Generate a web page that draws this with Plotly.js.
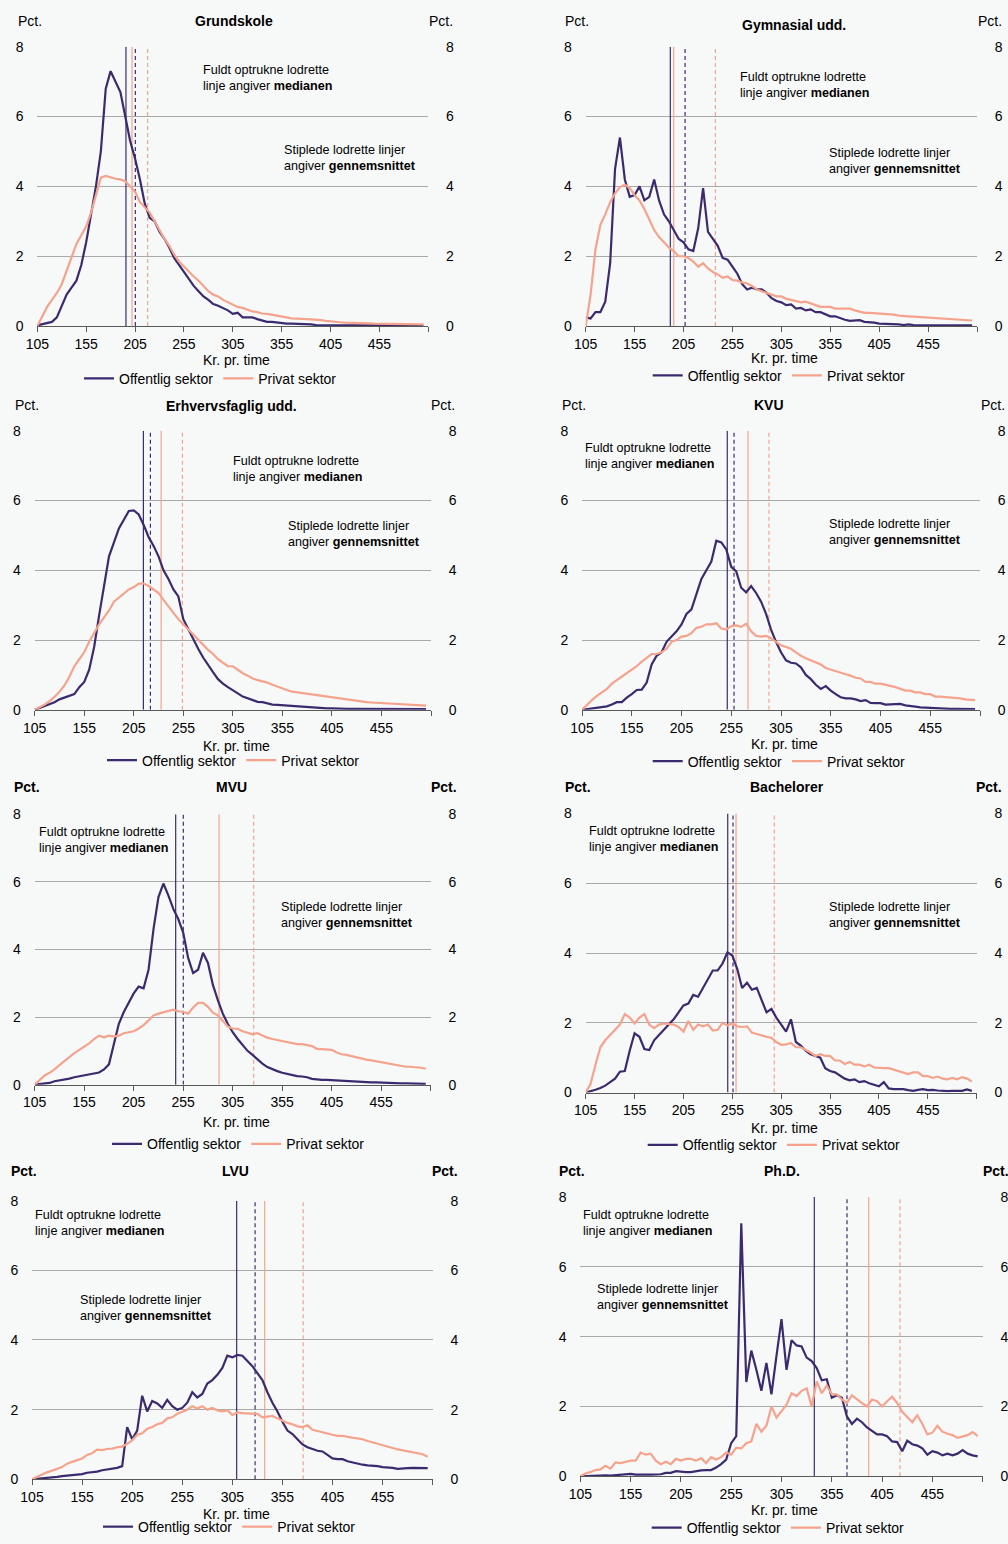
<!DOCTYPE html>
<html><head><meta charset="utf-8">
<script src="https://cdn.plot.ly/plotly-3.0.1.min.js"></script>
<style>html,body{margin:0;padding:0;background:#f7f8f8}#chart{width:1008px;height:1544px}</style>
</head><body><div id="chart"></div>
<script>
// Kr. pr. time (categories)
const kr = [105,110,115,120,125,130,135,140,145,150,155,160,165,170,175,180,185,190,195,200,
  205,210,215,220,225,230,235,240,245,250,255,260,265,270,275,280,285,290,295,300,
  305,310,315,320,325,330,335,340,345,350,355,360,365,370,375,380,385,390,395,400,
  405,410,415,420,425,430,435,440,445,450,455,460,465,470,475,480,485,490,495,500];
const xTickVals = [105,155,205,255,305,355,405,455,505];
const xTickText = ['105','155','205','255','305','355','405','455',''];
const yTickVals = [0,2,4,6,8];

const panelTitles = ['Grundskole','Gymnasial udd.','Erhvervsfaglig udd.','KVU','MVU','Bachelorer','LVU','Ph.D.'];
const seriesNames = ['Offentlig sektor','Privat sektor'];

// Pct. per wage bracket
const grundskoleOff = [0.02,0.05,0.08,0.12,0.25,0.55,0.9,1.1,1.3,1.75, 2.4,3.2,4.0,5.0,6.8,7.3,7.0,6.7,6.0,5.3,
  4.8,4.2,3.5,3.1,3.0,2.7,2.5,2.25,1.95,1.75, 1.55,1.35,1.15,1.0,0.85,0.75,0.63,0.58,0.52,0.45,
  0.35,0.38,0.25,0.24,0.25,0.2,0.15,0.12,0.12,0.1, 0.08,0.07,0.07,0.07,0.07,0.06,0.05,0.03,0.03,0.03,
  0.03,0.03,0.03,0.03,0.02,0.02,0.02,0.02,0.02,0.02, 0.02,0.02,0.02,0.02,0.03,0.03,0.02,0.02,0.02,0.02];
const grundskolePriv = [0,0.3,0.55,0.75,0.95,1.2,1.6,2.0,2.35,2.6, 2.85,3.25,3.75,4.25,4.3,4.25,4.22,4.2,4.15,4.0,
  3.85,3.55,3.4,3.25,3.0,2.75,2.5,2.3,2.05,1.85, 1.7,1.55,1.42,1.3,1.15,1.0,0.9,0.85,0.75,0.68,
  0.62,0.55,0.52,0.47,0.42,0.4,0.36,0.35,0.33,0.3, 0.28,0.25,0.22,0.22,0.21,0.2,0.19,0.19,0.17,0.15,
  0.13,0.12,0.11,0.1,0.1,0.09,0.09,0.08,0.08,0.07, 0.07,0.06,0.06,0.06,0.06,0.06,0.06,0.05,0.05,0.05];

const gymnasialOff = [0.25,0.22,0.4,0.4,0.7,1.8,4.5,5.4,4.2,3.7, 3.75,4.0,3.6,3.7,4.2,3.6,3.2,3.0,2.75,2.5,
  2.4,2.2,2.15,2.8,3.95,2.7,2.5,2.3,1.95,1.9, 1.7,1.5,1.2,1.05,1.1,1.05,1.05,0.95,0.8,0.72,
  0.68,0.6,0.62,0.5,0.52,0.45,0.48,0.4,0.4,0.35, 0.28,0.28,0.22,0.18,0.15,0.15,0.17,0.12,0.12,0.1,
  0.07,0.07,0.06,0.06,0.05,0.03,0.05,0.03,0.03,0.02, 0.03,0.03,0.02,0.03,0.02,0.02,0.02,0.02,0.02,0.02];
const gymnasialPriv = [0,0.9,2.2,2.9,3.2,3.55,3.8,3.98,4.05,3.95, 3.75,3.6,3.35,3.05,2.75,2.55,2.4,2.25,2.15,2.0,
  2.0,1.95,1.85,1.7,1.8,1.65,1.55,1.48,1.38,1.42, 1.32,1.3,1.25,1.22,1.15,1.05,1.0,0.95,0.9,0.85,
  0.85,0.78,0.75,0.72,0.68,0.7,0.65,0.58,0.55,0.55, 0.55,0.5,0.5,0.5,0.5,0.45,0.42,0.38,0.38,0.37,
  0.35,0.36,0.35,0.33,0.3,0.28,0.28,0.27,0.26,0.25, 0.24,0.23,0.22,0.21,0.2,0.19,0.17,0.17,0.16,0.16];

const erhvervOff = [0,0.05,0.1,0.15,0.22,0.3,0.35,0.38,0.45,0.65, 0.8,1.15,1.8,2.7,3.6,4.4,4.8,5.2,5.45,5.7,
  5.72,5.6,5.3,4.95,4.7,4.4,4.0,3.75,3.45,3.25, 2.6,2.3,2.0,1.75,1.5,1.28,1.08,0.88,0.75,0.65,
  0.55,0.47,0.38,0.33,0.28,0.23,0.22,0.18,0.15,0.14, 0.13,0.11,0.1,0.08,0.08,0.07,0.07,0.06,0.05,0.04,
  0.04,0.03,0.03,0.03,0.03,0.03,0.03,0.02,0.02,0.02, 0.02,0.02,0.02,0.02,0.02,0.02,0.02,0.02,0.02,0.02];
const erhvervPriv = [0,0.07,0.15,0.25,0.37,0.52,0.7,0.95,1.25,1.45, 1.65,1.95,2.2,2.45,2.65,2.85,3.1,3.22,3.32,3.45,
  3.52,3.62,3.62,3.55,3.45,3.35,3.15,2.95,2.78,2.6, 2.45,2.3,2.15,2.0,1.85,1.72,1.6,1.45,1.35,1.25,
  1.25,1.15,1.05,0.98,0.9,0.85,0.82,0.78,0.72,0.66, 0.6,0.56,0.52,0.5,0.48,0.45,0.42,0.4,0.38,0.36,
  0.34,0.32,0.3,0.28,0.26,0.25,0.23,0.22,0.21,0.2, 0.19,0.18,0.17,0.16,0.15,0.15,0.14,0.13,0.13,0.12];

const kvuOff = [0,0.02,0.03,0.05,0.07,0.1,0.15,0.22,0.22,0.35, 0.45,0.57,0.58,0.78,1.3,1.55,1.65,1.95,2.1,2.25,
  2.45,2.75,2.88,3.3,3.75,4.0,4.25,4.85,4.8,4.6, 4.1,3.97,3.5,3.37,3.55,3.35,3.1,2.75,2.3,1.95,
  1.65,1.42,1.35,1.33,1.22,1.0,0.88,0.72,0.6,0.68, 0.55,0.45,0.36,0.33,0.33,0.3,0.25,0.28,0.2,0.19,
  0.19,0.15,0.16,0.16,0.17,0.13,0.1,0.09,0.07,0.06, 0.06,0.05,0.04,0.03,0.03,0.03,0.03,0.03,0.02,0.02];
const kvuPriv = [0,0.15,0.28,0.4,0.5,0.6,0.75,0.85,0.95,1.05, 1.15,1.25,1.38,1.5,1.6,1.6,1.65,1.75,1.95,2.0,
  2.1,2.12,2.2,2.35,2.38,2.45,2.45,2.48,2.33,2.3, 2.4,2.42,2.38,2.47,2.25,2.12,2.1,2.12,2.05,1.95,
  1.85,1.8,1.75,1.65,1.55,1.48,1.42,1.35,1.3,1.2, 1.15,1.12,1.05,1.02,0.98,0.92,0.9,0.8,0.8,0.75,
  0.75,0.72,0.7,0.65,0.6,0.55,0.55,0.5,0.5,0.45, 0.45,0.38,0.38,0.37,0.35,0.33,0.33,0.3,0.3,0.28];

const mvuOff = [0,0.01,0.03,0.05,0.1,0.12,0.15,0.18,0.22,0.25, 0.28,0.3,0.33,0.36,0.45,0.6,1.2,1.8,2.15,2.45,
  2.7,2.9,2.85,3.4,4.6,5.55,5.95,5.6,5.2,4.9, 4.5,3.75,3.3,3.4,3.9,3.6,2.95,2.5,2.1,1.8,
  1.55,1.35,1.18,1.0,0.88,0.75,0.62,0.52,0.45,0.4, 0.35,0.31,0.27,0.25,0.24,0.22,0.17,0.15,0.14,0.14,
  0.13,0.12,0.11,0.1,0.1,0.09,0.08,0.07,0.07,0.07, 0.06,0.05,0.05,0.04,0.04,0.04,0.03,0.03,0.03,0.02];
const mvuPriv = [0,0.15,0.27,0.35,0.45,0.58,0.7,0.82,0.93,1.03, 1.13,1.22,1.35,1.45,1.4,1.45,1.43,1.45,1.52,1.56,
  1.58,1.66,1.76,1.9,2.05,2.1,2.14,2.2,2.22,2.17, 2.15,2.1,2.28,2.42,2.42,2.3,2.13,2.05,1.9,1.72,
  1.66,1.65,1.58,1.54,1.49,1.52,1.45,1.39,1.35,1.32, 1.27,1.26,1.22,1.2,1.2,1.17,1.14,1.06,1.05,1.05,
  1.03,0.95,0.9,0.88,0.84,0.8,0.76,0.74,0.72,0.69, 0.66,0.63,0.6,0.57,0.55,0.53,0.53,0.52,0.5,0.47];

const bachelorOff = [0,0.03,0.08,0.13,0.2,0.3,0.4,0.6,0.62,1.2, 1.7,1.6,1.25,1.22,1.5,1.65,1.8,1.95,2.1,2.3,
  2.5,2.55,2.8,2.75,3.0,3.25,3.5,3.5,3.7,4.02, 3.93,3.55,3.0,3.15,2.95,3.0,2.65,2.3,2.4,2.15,
  1.95,1.75,2.1,1.45,1.35,1.2,1.1,1.05,1.0,0.7, 0.62,0.58,0.5,0.4,0.35,0.38,0.3,0.33,0.27,0.23,
  0.18,0.3,0.12,0.1,0.11,0.1,0.07,0.05,0.08,0.1, 0.07,0.08,0.06,0.04,0.04,0.05,0.05,0.05,0.09,0.05];
const bachelorPriv = [0,0.25,0.8,1.3,1.5,1.65,1.8,1.95,2.25,2.15, 1.98,2.15,2.25,1.95,1.85,1.95,1.98,1.97,1.95,1.88,
  1.75,2.05,1.8,1.95,1.9,1.95,1.78,1.8,2.0,1.92, 1.98,1.9,1.88,1.9,1.72,1.68,1.63,1.6,1.57,1.45,
  1.37,1.38,1.42,1.3,1.3,1.23,1.15,1.05,1.1,1.05, 1.05,0.92,0.92,0.82,0.88,0.8,0.8,0.75,0.8,0.72,
  0.7,0.7,0.7,0.66,0.62,0.57,0.53,0.58,0.58,0.47, 0.47,0.42,0.46,0.4,0.38,0.42,0.38,0.44,0.4,0.32];

const lvuOff = [0,0.01,0.02,0.04,0.05,0.07,0.09,0.1,0.12,0.14, 0.15,0.19,0.2,0.22,0.26,0.28,0.3,0.33,0.38,1.5,
  1.15,1.4,2.4,1.95,2.25,2.18,2.05,2.28,2.1,2.0, 2.05,2.2,2.5,2.35,2.45,2.75,2.85,3.0,3.2,3.55,
  3.5,3.57,3.55,3.4,3.25,3.05,2.85,2.5,2.2,1.95, 1.65,1.4,1.3,1.15,1.0,0.92,0.87,0.82,0.8,0.7,
  0.6,0.58,0.58,0.52,0.48,0.45,0.42,0.4,0.4,0.38, 0.35,0.35,0.33,0.3,0.32,0.32,0.33,0.33,0.32,0.32];
const lvuPriv = [0,0.08,0.14,0.2,0.26,0.3,0.35,0.45,0.5,0.55, 0.6,0.7,0.75,0.85,0.84,0.87,0.88,0.92,0.94,1.02,
  1.12,1.28,1.32,1.45,1.5,1.58,1.62,1.75,1.78,1.88, 1.95,2.0,2.1,2.03,2.1,2.0,2.05,1.98,1.95,1.98,
  1.85,1.92,1.9,1.9,1.88,1.88,1.78,1.8,1.82,1.75, 1.68,1.62,1.58,1.52,1.5,1.55,1.42,1.38,1.35,1.3,
  1.28,1.25,1.25,1.22,1.2,1.18,1.15,1.1,1.05,1.02, 0.98,0.95,0.9,0.86,0.83,0.8,0.76,0.73,0.72,0.65];

const phdOff = [0,0.01,0.01,0.02,0.02,0.03,0.02,0.03,0.04,0.04, 0.07,0.05,0.04,0.05,0.05,0.05,0.06,0.1,0.1,0.15,
  0.13,0.12,0.12,0.15,0.17,0.18,0.18,0.25,0.35,0.48, 0.95,1.15,7.25,2.7,3.6,3.05,2.45,3.25,2.35,3.45,
  4.5,3.05,3.9,3.75,3.72,3.4,3.3,3.1,2.75,2.78, 2.25,2.32,2.25,1.72,1.5,1.65,1.55,1.4,1.3,1.2,
  1.2,1.15,1.0,0.98,0.72,1.02,0.92,0.88,0.8,0.62, 0.72,0.68,0.6,0.65,0.6,0.65,0.75,0.65,0.6,0.57];
const phdPriv = [0,0.08,0.12,0.18,0.2,0.3,0.22,0.4,0.38,0.42, 0.45,0.45,0.68,0.62,0.65,0.45,0.35,0.42,0.35,0.5,
  0.45,0.5,0.5,0.45,0.52,0.38,0.55,0.48,0.55,0.68, 0.62,0.82,0.8,0.95,1.0,1.5,1.28,1.45,2.0,1.68,
  1.85,2.05,2.38,2.3,2.45,2.52,2.0,2.72,2.38,2.6, 2.35,2.35,2.2,2.1,2.32,2.2,2.1,2.0,2.2,2.15,
  2.0,2.15,2.28,2.1,1.85,1.7,1.55,1.75,1.5,1.2, 1.25,1.45,1.28,1.22,1.18,1.1,1.15,1.18,1.27,1.15];

// Median (solid) and average (dashed) in kr. pr. time
const medianOff  = [195.7,191.5,214.7,251.0,247.4,250.3,309.3,337.6];
const medianPriv = [201.9,195.0,232.6,271.8,291.2,258.8,337.3,391.7];
const meanOff    = [205.3,206.6,221.8,257.8,255.1,255.7,327.7,370.1];
const meanPriv   = [217.9,237.6,254.1,292.9,326.2,297.9,375.7,422.8];

const offSeries  = [grundskoleOff,gymnasialOff,erhvervOff,kvuOff,mvuOff,bachelorOff,lvuOff,phdOff];
const privSeries = [grundskolePriv,gymnasialPriv,erhvervPriv,kvuPriv,mvuPriv,bachelorPriv,lvuPriv,phdPriv];

// ---------- layout geometry (pixels) ----------
const W = 1008, H = 1544;
const NAVY = '#3b2b6e', SALMON = '#f5a38c', GRID = '#a9a9a9', AX = '#595959';
const FONT = '"Liberation Sans", Arial, sans-serif';
const geo = [
 {box:[37.3,428.3,47,328],   title:[234,21],  pl:[30,21],    pr:[441,21],    kr:[236,362],  leg:[87,381],   med:[201,78],    avg:[282,158.5], boldPct:false},
 {box:[585.7,977,47,328],    title:[794,25],  pl:[577,21],   pr:[990,21],    kr:[784,360],  leg:[655.7,378],med:[738,85.5],  avg:[827,161.5], boldPct:false},
 {box:[34.7,431,433.3,714],  title:[231,408], pl:[27,407],   pr:[443,407],   kr:[236,750],  leg:[110,765],  med:[230.7,471.5],avg:[286,537.5], boldPct:false},
 {box:[582,980,433.3,714],   title:[769,407], pl:[574,407],  pr:[992.7,407], kr:[784,748],  leg:[655.7,766],med:[583.3,458.5],avg:[827.3,535.5], boldPct:false},
 {box:[34.7,430.7,819,1091], title:[231,792], pl:[27,792],   pr:[443.7,792], kr:[236,1129], leg:[115,1151], med:[36.7,844.5], avg:[279.3,920.5], boldPct:true},
 {box:[585.7,976.7,818.3,1099],title:[787,792],pl:[577.7,792],pr:[989,792], kr:[784,1135], leg:[650.7,1152],med:[586.7,844], avg:[826.7,920.5], boldPct:true},
 {box:[32,432.7,1207.7,1488],title:[235,1178],pl:[24,1178],  pr:[445,1178],  kr:[236,1523], leg:[106,1536], med:[33.3,1230.5],avg:[77.7,1316], boldPct:true},
 {box:[580.3,982.7,1204,1485],title:[782,1178],pl:[571.7,1178],pr:[995.7,1178],kr:[784,1519],leg:[654.7,1537],med:[581.3,1230.5],avg:[594.7,1304.5], boldPct:true}
];
const fx = p => p / W, fy = p => 1 - p / H;

const data = [], annotations = [];
const layout = {
  width: W, height: H, margin: {l:0, r:0, t:0, b:0},
  paper_bgcolor: '#f7f8f8', plot_bgcolor: '#f7f8f8',
  font: {family: FONT, size: 14, color: '#000'},
  showlegend: true, annotations: annotations
};

geo.forEach((g, i) => {
  const n = i + 1, rn = i + 9;
  const xs = n === 1 ? '' : String(n);
  const xName = 'x' + xs, yName = 'y' + xs, yrName = 'y' + rn;
  const legName = n === 1 ? 'legend' : 'legend' + n;
  const [x0, x1, yTop, yBot] = g.box;

  layout['xaxis' + xs] = {
    domain: [fx(x0), fx(x1)], anchor: yName, range: [105, 505],
    tickmode: 'array', tickvals: xTickVals, ticktext: xTickText,
    ticks: 'outside', ticklen: 5, tickcolor: AX, showline: true, linecolor: AX, linewidth: 1,
    showgrid: false, zeroline: false, tickfont: {size: 14, color: '#000'}, fixedrange: true
  };
  layout['yaxis' + xs] = {
    domain: [fy(yBot), fy(yTop)], anchor: xName, range: [0, 8],
    tickmode: 'array', tickvals: yTickVals, showgrid: true, gridcolor: GRID, gridwidth: 1,
    zeroline: false, showline: false, ticks: 'outside', ticklen: 10, tickcolor: 'rgba(0,0,0,0)',
    tickfont: {size: 14, color: '#000'}, fixedrange: true
  };
  layout['yaxis' + rn] = {
    anchor: xName, overlaying: yName, side: 'right', range: [0, 8],
    tickmode: 'array', tickvals: yTickVals, showgrid: false, zeroline: false, showline: false,
    ticks: 'outside', ticklen: 14, tickcolor: 'rgba(0,0,0,0)',
    tickfont: {size: 14, color: '#000'}, fixedrange: true
  };

  // vertical reference lines (left axis, behind the curves)
  const vl = (xv, color, dash) => ({
    type: 'scatter', mode: 'lines', x: [xv, xv], y: [0, 8], xaxis: xName, yaxis: yName,
    line: {color: color, width: 1.2, dash: dash}, showlegend: false, hoverinfo: 'skip'
  });
  data.push(vl(medianOff[i], NAVY, 'solid'));
  data.push(vl(meanOff[i], NAVY, '4px,3px'));
  data.push(vl(medianPriv[i], SALMON, 'solid'));
  data.push(vl(meanPriv[i], SALMON, '4px,3px'));

  // distribution curves (right axis overlay, on top)
  data.push({type: 'scatter', mode: 'lines', name: seriesNames[0], x: kr, y: offSeries[i],
    xaxis: xName, yaxis: yrName, line: {color: NAVY, width: 2.2}, legend: legName});
  data.push({type: 'scatter', mode: 'lines', name: seriesNames[1], x: kr, y: privSeries[i],
    xaxis: xName, yaxis: yrName, line: {color: SALMON, width: 2.2}, legend: legName});

  layout[legName] = {
    orientation: 'h', x: fx(g.leg[0] - 8), y: fy(g.leg[1]), xanchor: 'left', yanchor: 'middle',
    bgcolor: 'rgba(0,0,0,0)', font: {size: 14, color: '#000'}, itemwidth: 30, traceorder: 'normal'
  };

  const ann = (pos, text, opts) => annotations.push(Object.assign({
    xref: 'paper', yref: 'paper', x: fx(pos[0]), y: fy(pos[1]), text: text, showarrow: false,
    xanchor: 'center', yanchor: 'middle', font: {size: 14, color: '#000'}
  }, opts || {}));
  ann(g.title, '<b>' + panelTitles[i] + '</b>');
  ann(g.pl, g.boldPct ? '<b>Pct.</b>' : 'Pct.');
  ann(g.pr, g.boldPct ? '<b>Pct.</b>' : 'Pct.');
  ann(g.kr, 'Kr. pr. time');
  ann(g.med, 'Fuldt optrukne lodrette<br>linje angiver <b>medianen</b>',
      {xanchor: 'left', align: 'left', font: {size: 12.6, color: '#000'}});
  ann(g.avg, 'Stiplede lodrette linjer<br>angiver <b>gennemsnittet</b>',
      {xanchor: 'left', align: 'left', font: {size: 12.6, color: '#000'}});
});

Plotly.newPlot('chart', data, layout, {staticPlot: true, displayModeBar: false});
</script>
</body></html>
